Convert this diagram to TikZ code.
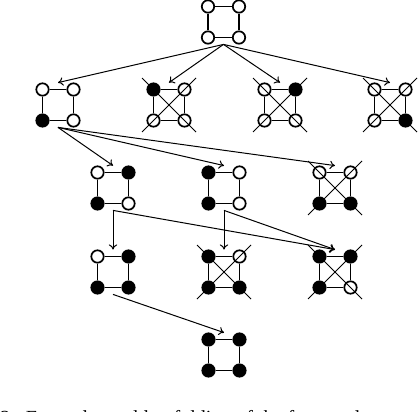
\documentclass[tikz,border=0pt]{standalone}
\usepackage{fontspec}
\setmainfont{Liberation Serif}
\usetikzlibrary{arrows.meta}

\tikzset{
  graphbox/.style={minimum size=22pt, inner sep=0pt},
  vtx/.style={circle, draw, line width=.85pt, minimum size=6.2pt, inner sep=0pt},
  ring/.style={line width=.85pt},
  diag/.style={line width=.45pt},
  succ/.style={-{To[length=2.6pt,width=4.2pt]}, line width=.5pt},
}

% a 4-cycle: name, centre, fill of tl, tr, bl, br
\newcommand{\cyc}[6]{%
  \begin{scope}[shift={(#2)}]
    \node[graphbox] (#1) at (0,0) {};
    \node[vtx, fill=#3] (#1tl) at (-15.5,-15.5) {};
    \node[vtx, fill=#4] (#1tr) at (15.5,-15.5)  {};
    \node[vtx, fill=#5] (#1bl) at (-15.5,15.5)  {};
    \node[vtx, fill=#6] (#1br) at (15.5,15.5)   {};
    \draw[ring] (#1tl) -- (#1tr) -- (#1br) -- (#1bl) -- (#1tl);
  \end{scope}}

% the same, crossed out
\newcommand{\xcyc}[6]{%
  \cyc{#1}{#2}{#3}{#4}{#5}{#6}
  \draw[diag] ([shift={(-11.5,-11.5)}]#1tl.center) -- ([shift={(11.5,11.5)}]#1br.center);
  \draw[diag] ([shift={(11.5,-11.5)}]#1tr.center) -- ([shift={(-11.5,11.5)}]#1bl.center);}

\begin{document}
\begin{tikzpicture}[x=.5pt, y=-.5pt]

  \useasboundingbox (0,0) rectangle (418,412);

  \cyc{top}{223.5,22}{white}{white}{white}{white}

  \cyc{a1}{58,105}{white}{white}{black}{white}
  \xcyc{a2}{169,105}{black}{white}{white}{white}
  \xcyc{a3}{280,105}{white}{black}{white}{white}
  \xcyc{a4}{390,105}{white}{white}{white}{black}

  \cyc{b1}{113,188}{white}{black}{black}{white}
  \cyc{b2}{224,188}{black}{white}{black}{white}
  \xcyc{b3}{335,188}{white}{white}{black}{black}

  \cyc{c1}{113,272}{white}{black}{black}{black}
  \xcyc{c2}{224,272}{black}{white}{black}{black}
  \xcyc{c3}{335,272}{black}{black}{black}{white}

  \cyc{bot}{224,355}{black}{black}{black}{black}

  \path[succ] (top.south) edge (a1.north)
                          edge (a2.north)
                          edge (a3.north)
                          edge (a4.north);
  \path[succ] (a1.south)  edge (b1.north)
                          edge (b2.north)
                          edge (b3.north);
  \path[succ] (b1.south)  edge (c1.north)
                          edge (c3.north);
  \path[succ] (b2.south)  edge (c2.north)
                          edge (c3.north);
  \path[succ] (c1.south)  edge (bot.north);

  % caption line, cut by the lower edge as in the source
  \node[anchor=base west, inner sep=0pt, font=\fontsize{10}{12}\selectfont]
    (caption) at (0,424) {2:\ \ Example world unfolding of the four-cycle};

\end{tikzpicture}
\end{document}
